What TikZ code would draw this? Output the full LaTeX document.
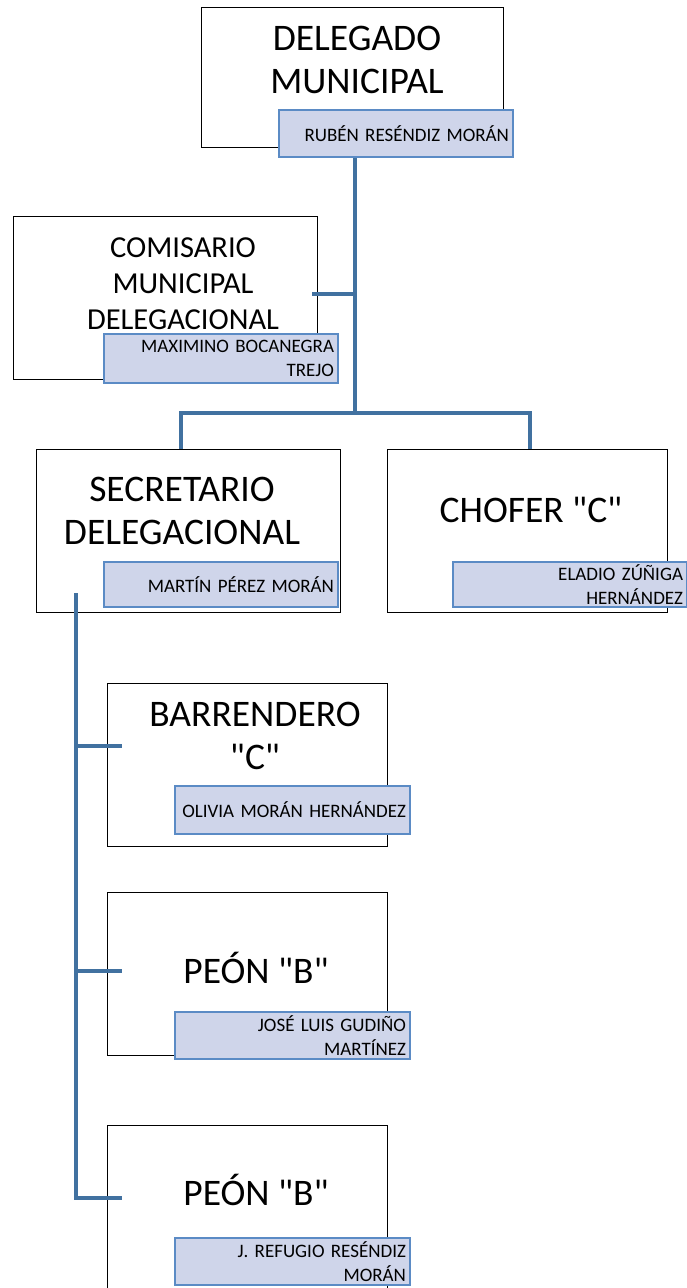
\documentclass[tikz,border=0pt]{standalone}
\usepackage{fontspec}
\setmainfont{Carlito}
\definecolor{lcol}{RGB}{65,113,160}
\definecolor{nfill}{RGB}{207,213,234}
\definecolor{nbord}{RGB}{91,139,197}
\tikzset{
  box/.style={draw=black, line width=1.3pt, fill=white, anchor=north west, inner sep=0pt},
  namebox/.style={draw=nbord, fill=nfill, line width=2pt, anchor=north west, inner xsep=4pt, inner ysep=0pt, align=right, font=\fontsize{19}{23.5}\selectfont},
  titletext/.style={align=center, inner sep=0pt, font=\fontsize{37.5}{43}\selectfont},
  smalltitle/.style={align=center, inner sep=0pt, font=\fontsize{30.5}{36}\selectfont},
  conn/.style={draw=lcol, line width=4pt}
}
\newcommand{\qq}{\textquotedbl}
\begin{document}
\begin{tikzpicture}[x=1pt,y=-1pt]
\useasboundingbox (0,0) rectangle (686,1288);
% boxes
\node[box, minimum width=302pt, minimum height=140pt] (del) at (201,7) {};
\node[titletext] (delT) at (357,60) {DELEGADO\\MUNICIPAL};
\node[namebox, text width=226pt, minimum height=47pt] (delN) at (278,109) {RUBÉN RESÉNDIZ MORÁN};

\node[box, minimum width=304pt, minimum height=163pt] (com) at (13,216) {};
\node[smalltitle] (comT) at (183,284) {COMISARIO\\MUNICIPAL\\DELEGACIONAL};
\node[namebox, text width=226pt, minimum height=49pt] (comN) at (103,333) {MAXIMINO BOCANEGRA\\TREJO};

\node[box, minimum width=304pt, minimum height=163pt] (sec) at (36,449) {};
\node[titletext] (secT) at (182,511) {SECRETARIO\\DELEGACIONAL};
\node[namebox, text width=226pt, minimum height=45pt] (secN) at (103,561) {MARTÍN PÉREZ MORÁN};

\node[box, minimum width=280pt, minimum height=163pt] (cho) at (387,449) {};
\node[titletext] (choT) at (531,510) {CHOFER \qq C\qq};
\node[namebox, text width=226pt, minimum height=45pt] (choN) at (452,561) {ELADIO ZÚÑIGA\\HERNÁNDEZ};

\node[box, minimum width=280pt, minimum height=163pt] (bar) at (107,683) {};
\node[titletext] (barT) at (255,736) {BARRENDERO\\\qq C\qq};
\node[namebox, text width=227pt, minimum height=48pt] (barN) at (174,785) {OLIVIA MORÁN HERNÁNDEZ};

\node[box, minimum width=280pt, minimum height=163pt] (peo) at (107,892) {};
\node[titletext] (peoT) at (256,968) {PEÓN \qq B\qq};
\node[namebox, text width=227pt, minimum height=47pt] (peoN) at (174,1011) {JOSÉ LUIS GUDIÑO\\MARTÍNEZ};

\node[box, minimum width=280pt, minimum height=180pt] (peb) at (107,1125) {};
\node[titletext] (pebT) at (256,1190) {PEÓN \qq B\qq};
\node[namebox, text width=227pt, minimum height=47pt] (pebN) at (174,1237) {J. REFUGIO RESÉNDIZ\\MORÁN};

% connector points
\coordinate (j1) at (355,413);
\coordinate (jc) at (355,294);
\coordinate (ce) at (312,294);
\coordinate (ja) at (181,413);
\coordinate (jb) at (530,413);
\coordinate (s0) at (76,593);
\coordinate (s1) at (76,746);
\coordinate (s2) at (76,971);
\coordinate (s3) at (76,1198);
\coordinate (e1) at (122,746);
\coordinate (e2) at (122,971);
\coordinate (e3) at (122,1198);

\draw[conn] (delN.south -| j1) -- (j1);
\draw[conn] (jc) -- (ce);
\draw[conn] (ja |- sec.north) -- (ja) -- (jb) -- (jb |- cho.north);
\draw[conn] (s0) -- (s3) -- (e3);
\draw[conn] (s1) -- (e1);
\draw[conn] (s2) -- (e2);
\end{tikzpicture}
\end{document}
